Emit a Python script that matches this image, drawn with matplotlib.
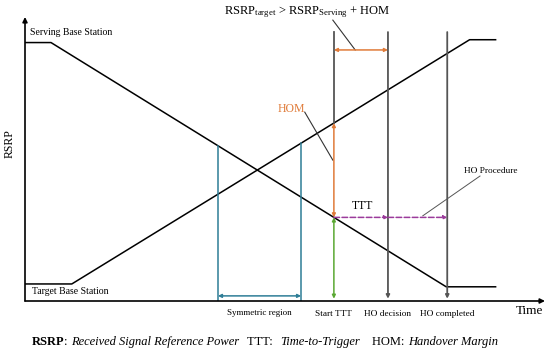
import numpy as np
import matplotlib
matplotlib.use("Agg")
import matplotlib.pyplot as plt

plt.rcParams['font.family'] = ['Liberation Serif', 'DejaVu Serif']
plt.rcParams['mathtext.fontset'] = 'custom'
plt.rcParams['mathtext.rm'] = 'Liberation Serif'
plt.rcParams['mathtext.it'] = 'Liberation Serif:italic'

# ---- schematic data ----
serving_t = [0.0, 0.5, 8.1, 9.05]
serving_rsrp = [9.1, 9.1, 0.5, 0.5]
target_t = [0.0, 0.9, 8.55, 9.05]
target_rsrp = [0.6, 0.6, 9.2, 9.2]
sym_region = [3.71, 5.31]
t_start, t_decision, t_completed = 5.94, 6.98, 8.12
event_labels = ["Start TTT", "HO decision", "HO completed"]
v_top = 9.47

GRAY = '#555555'
BLUE = '#2e7d96'
ORANGE = '#e07b39'
GREEN = '#5aa832'
MAGENTA = '#9b3b9b'

fig = plt.figure(figsize=(5.5, 3.53), dpi=100)
ax = fig.add_axes([25/550, 52/353, 520/550, 284/353])
ax.set_xlim(0, 10)
ax.set_ylim(0, 10)
ax.axis('off')

def arrow(x0, y0, x1, y1, color, style='-|>', lw=1.0, ls='-', ms=6):
    ax.annotate('', xy=(x1, y1), xytext=(x0, y0),
                arrowprops=dict(arrowstyle=style, color=color, lw=lw, ls=ls,
                                shrinkA=0, shrinkB=0, mutation_scale=ms),
                annotation_clip=False)

# axes with arrows
arrow(0, 0, 10, 0, 'black', lw=1.2, ms=7)
arrow(0, 0, 0, 10, 'black', lw=1.2, ms=7)

# signal lines
ax.plot(serving_t, serving_rsrp, color='black', lw=1.1)
ax.plot(target_t, target_rsrp, color='black', lw=1.1)

def s_at(t):
    return np.interp(t, serving_t, serving_rsrp)

def g_at(t):
    return np.interp(t, target_t, target_rsrp)

# symmetric region
ax.plot([sym_region[0]]*2, [0, s_at(sym_region[0])], color=BLUE, lw=1.1)
ax.plot([sym_region[1]]*2, [0, g_at(sym_region[1])], color=BLUE, lw=1.1)
arrow(sym_region[0], 0.18, sym_region[1], 0.18, BLUE, style='<|-|>', lw=1.1, ms=5)

# start TTT line
ax.plot([t_start]*2, [g_at(t_start), v_top], color=GRAY, lw=1.3)
arrow(t_start, s_at(t_start), t_start, g_at(t_start), ORANGE, style='<|-|>', lw=1.1, ms=5)
arrow(t_start, 0.08, t_start, s_at(t_start), GREEN, style='<|-|>', lw=1.1, ms=5)

# HO decision / completed
for t in [t_decision, t_completed]:
    arrow(t, v_top, t, 0.08, GRAY, lw=1.3, ms=5)

# HOM top horizontal
y_hom = 8.84
arrow(t_start, y_hom, t_decision, y_hom, ORANGE, style='<|-|>', lw=1.1, ms=5)

# TTT dashed
y_ttt = s_at(t_start)
arrow(t_start, y_ttt, t_decision, y_ttt, MAGENTA, lw=1.1, ls='--', ms=5)
arrow(t_decision, y_ttt, t_completed, y_ttt, MAGENTA, lw=1.1, ls='--', ms=5)

# leader lines
ax.plot([5.92, 6.35], [9.89, y_hom], color='#333333', lw=0.8, clip_on=False)
ax.plot([5.38, 5.92], [6.65, 4.96], color='#333333', lw=0.8)
ax.plot([8.75, 7.65], [4.40, 3.0], color='#555555', lw=0.7)

# texts
ax.text(0.1, 9.44, "Serving Base Station", fontsize=7, va='center', ha='left')
ax.text(0.13, 0.32, "Target Base Station", fontsize=7, va='center', ha='left')
ax.text(5.12, 6.76, "HOM", fontsize=8.5, color=ORANGE, va='center', ha='center')
ax.text(6.5, 3.35, "TTT", fontsize=8.5, va='center', ha='center')
ax.text(8.96, 4.58, "HO Procedure", fontsize=6.7, va='center', ha='center')
ax.text(np.mean(sym_region), -0.42, "Symmetric region", fontsize=6.5, va='center', ha='center')
for t, lab in zip([t_start, t_decision, t_completed], event_labels):
    ax.text(t, -0.45, lab, fontsize=6.7, va='center', ha='center')
ax.text(9.71, -0.35, "Time", fontsize=9.5, va='center', ha='center')
ax.text(-0.29, 5.53, "RSRP", fontsize=8.5, va='center', ha='center', rotation=90)
ax.text(5.42, 10.18,
        r"RSRP$_{\mathrm{target}}$ > RSRP$_{\mathrm{Serving}}$ + HOM",
        fontsize=9, va='center', ha='center')

# caption
cy = 1 - 342/353
fig.text(32/550, cy, "RSRP", fontsize=9, fontweight='bold', va='center')
fig.text(64/550, cy, ": ", fontsize=9, va='center')
fig.text(71/550, cy, "Received Signal Reference Power", fontsize=9, style='italic', va='center')
fig.text(247/550, cy, "TTT: ", fontsize=9, va='center')
fig.text(280/550, cy, "Time-to-Trigger", fontsize=9, style='italic', va='center')
fig.text(372/550, cy, "HOM: ", fontsize=9, va='center')
fig.text(408/550, cy, "Handover Margin", fontsize=9, style='italic', va='center')

fig.savefig("out.png", dpi=100)
